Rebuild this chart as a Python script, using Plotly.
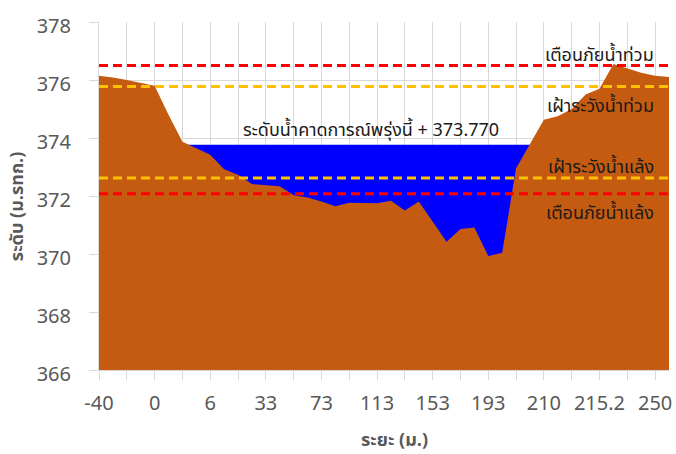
import plotly.graph_objects as go

# ---- data ----
distance = ["-40", "-30", "-20", "-10", "0", "2", "3", "4.5", "6", "13",
            "20", "26", "33", "43", "53", "63", "73", "83", "93", "103",
            "113", "123", "133", "143", "153", "163", "173", "183", "193", "198",
            "203", "207", "210", "211.3", "212.6", "213.9", "215.2", "224", "233", "242",
            "250", "260"]
ground_level = [376.15, 376.09, 376.00, 375.90, 375.80, 374.80, 373.87, 373.65, 373.42, 372.92,
                372.73, 372.41, 372.37, 372.34, 372.03, 371.95, 371.81, 371.65, 371.77, 371.75,
                371.75, 371.84, 371.50, 371.81, 371.10, 370.42, 370.86, 370.91, 369.93, 370.04,
                372.96, 373.77, 374.63, 374.75, 375.00, 375.50, 375.70, 376.55, 376.40, 376.25,
                376.15, 376.10]
water_level = 373.770
water_start, water_end = 6, 31

flood_warning = 376.50
flood_watch = 375.78
drought_watch = 372.62
drought_warning = 372.08

tick_labels = ["-40", "0", "6", "33", "73", "113", "153", "193", "210", "215.2", "250"]
y_ticks = [366, 368, 370, 372, 374, 376, 378]

# ---- styles ----
FONT = "Noto Sans Thai, Noto Sans, Tahoma, sans-serif"
GRID = "#D9D9D9"
TICKCOL = "#595959"

fig = go.Figure()

water_x = distance[water_start:water_end + 1]
fig.add_trace(go.Scatter(
    x=water_x, y=[water_level] * len(water_x),
    fill="tozeroy", fillcolor="#0000FF", mode="lines",
    line=dict(color="#0000FF", width=0), hoverinfo="skip", showlegend=False))

fig.add_trace(go.Scatter(
    x=distance, y=ground_level,
    fill="tozeroy", fillcolor="#C55A11", mode="lines",
    line=dict(color="#C55A11", width=0), showlegend=False))

for val, col in [(flood_warning, "#FF0000"), (flood_watch, "#FFC000"),
                 (drought_watch, "#FFC000"), (drought_warning, "#FF0000")]:
    fig.add_shape(type="line", xref="paper", x0=0, x1=1, yref="y", y0=val, y1=val,
                  line=dict(color=col, width=3, dash="9px,5px"))

# tick positions every 2 categories, labels every 4
tickvals = distance[0:41:2]
ticktext = []
li = 0
for i in range(0, 41, 2):
    if i % 4 == 0:
        ticktext.append(tick_labels[li]); li += 1
    else:
        ticktext.append("")

labels = [("เตือนภัยน้ำท่วม", 376.83), ("เฝ้าระวังน้ำท่วม", 375.08),
          ("เฝ้าระวังน้ำแล้ง", 372.97), ("เตือนภัยน้ำแล้ง", 371.38)]
for txt, yv in labels:
    fig.add_annotation(text=txt, xref="paper", x=0.978, xanchor="right",
                       yref="y", y=yv, yanchor="middle", showarrow=False,
                       font=dict(family=FONT, size=18, color="#1A1A1A"))

fig.add_annotation(text="ระดับน้ำคาดการณ์พรุ่งนี้ + %.3f" % water_level,
                   xref="paper", x=0.478, xanchor="center",
                   yref="y", y=374.25, yanchor="middle", showarrow=False,
                   font=dict(family=FONT, size=18, color="#1A1A1A"))

fig.add_annotation(text="<b>ระยะ (ม.)</b>", xref="paper", x=(395 - 99.3) / 570.2,
                   xanchor="center", yref="paper", y=-0.203, yanchor="middle",
                   showarrow=False, font=dict(family=FONT, size=18, color="#595959"))
fig.add_annotation(text="<b>ระดับ (ม.รทก.)</b>", xref="paper", x=(18 - 99.3) / 570.2,
                   xanchor="center", yref="paper", y=0.47, yanchor="middle",
                   textangle=-90, showarrow=False,
                   font=dict(family=FONT, size=18, color="#595959"))

fig.update_layout(
    width=676, height=454,
    margin=dict(l=99, r=7, t=22, b=84, autoexpand=False),
    paper_bgcolor="white", plot_bgcolor="white",
    font=dict(family=FONT, color=TICKCOL),
    hovermode=False,
    xaxis=dict(type="category", categoryorder="array", categoryarray=distance,
               range=[0, len(distance) - 1], automargin=False,
               tickmode="array", tickvals=tickvals, ticktext=ticktext,
               showgrid=True, gridcolor=GRID, gridwidth=1,
               ticks="outside", ticklen=9, tickcolor=GRID,
               showline=True, linecolor=GRID, linewidth=1,
               tickfont=dict(size=20, color=TICKCOL), ticklabelstandoff=6,
               zeroline=False),
    yaxis=dict(range=[366, 378], tickvals=y_ticks, automargin=False,
               showgrid=True, gridcolor=GRID, gridwidth=1,
               ticks="outside", ticklen=9, tickcolor=GRID,
               showline=True, linecolor=GRID, linewidth=1,
               tickfont=dict(size=20, color=TICKCOL), ticklabelstandoff=14,
               ticklabelshift=4,
               zeroline=False),
)

fig.write_html("out.html", config={"displayModeBar": False},
               post_script="document.body.style.margin='0';document.body.style.overflow='hidden';")
